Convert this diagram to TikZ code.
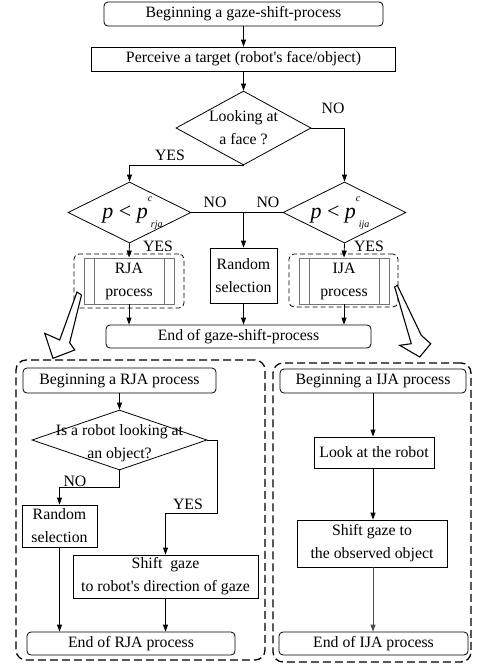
\documentclass[tikz,border=0pt]{standalone}
\usepackage{fontspec}
\setmainfont{Liberation Serif}
\usetikzlibrary{arrows.meta,shapes.geometric,calc}
\newcommand\pform[1]{{\fontsize{22}{24}\selectfont\itshape p \upshape< \itshape p}\rlap{\raisebox{17pt}{\fontsize{10}{12}\selectfont\itshape c}}\hspace{3pt}\raisebox{-9pt}{\fontsize{10}{12}\selectfont\itshape #1}}
\begin{document}
\begin{tikzpicture}[x=1pt,y=-1pt,
  every node/.style={font=\fontsize{15.8}{23}\selectfont, inner sep=0pt},
  box/.style={draw, line width=0.8pt, align=center},
  rbox/.style={box, rounded corners=4pt},
  pbox/.style={draw=black!55, line width=0.9pt, align=center},
  dia/.style={draw, diamond, line width=0.8pt, inner sep=0pt},
  arr/.style={-{Triangle[length=7pt,width=5pt]}, line width=0.8pt},
  ln/.style={line width=0.8pt},
  smalldash/.style={draw, line width=0.8pt, dash pattern=on 5pt off 3pt, rounded corners=5pt},
  bigdash/.style={draw, line width=1.3pt, dash pattern=on 8pt off 4pt, rounded corners=10pt},
  lbl/.style={font=\fontsize{15.8}{20}\selectfont}
]
\useasboundingbox (0,0) rectangle (477,664);

% ---- top part ----
\node[rbox, minimum width=279pt, minimum height=24pt] (start) at (243.5,14) {Beginning a gaze-shift-process};
\node[box, minimum width=304pt, minimum height=24pt] (perc) at (243.5,59) {Perceive a target (robot\textquotesingle s face/object)};
\node[dia, minimum width=135pt, minimum height=74pt] (d1) at (243.5,128) {};
\node[align=center] (d1t) at (243.5,128) {Looking at\\a face ?};
\node[dia, minimum width=123pt, minimum height=61pt] (d2) at (129.5,212.5) {};
\node (d2t) at (132.5,213) {\pform{rja}};
\node[dia, minimum width=123pt, minimum height=61pt] (d3) at (344.5,212.5) {};
\node (d3t) at (340,213) {\pform{ija}};

\node[pbox, minimum width=90pt, minimum height=46pt] (rja) at (129,281) {RJA\\process};
\node[pbox, minimum width=90pt, minimum height=46pt] (ija) at (344,281) {IJA\\process};
\draw[black!55, line width=0.9pt] ([xshift=11pt]rja.north west) -- ([xshift=11pt]rja.south west);
\draw[black!55, line width=0.9pt] ([xshift=-10pt]rja.north east) -- ([xshift=-10pt]rja.south east);
\draw[black!55, line width=0.9pt] ([xshift=11pt]ija.north west) -- ([xshift=11pt]ija.south west);
\draw[black!55, line width=0.9pt] ([xshift=-10pt]ija.north east) -- ([xshift=-10pt]ija.south east);
\node[box, minimum width=67pt, minimum height=55pt] (rand) at (243.5,275.5) {Random\\selection};
\node[smalldash, minimum width=110pt, minimum height=54pt] (rjad) at (129,281) {};
\node[smalldash, minimum width=109pt, minimum height=53pt] (ijad) at (343.5,280.5) {};
\node[rbox, minimum width=265pt, minimum height=23pt] (end) at (238.5,336.5) {End of gaze-shift-process};

\draw[arr] (start) -- (perc);
\draw[arr] (perc) -- (d1);
\draw[arr] (d1.east) -| (d3.north);
\draw[arr] (d1.south) -| (d2.north);
\draw[ln] (d2.east) -- (d3.west);
\coordinate (mid) at (rand.north |- d2.east);
\draw[arr] (mid) -- (rand.north);
\draw[arr] (d2.south) -- (rja.north);
\draw[arr] (d3.south) -- (ija.north);
\draw[arr] (rja.south) -- (rja.south |- end.north);
\draw[arr] (rand.south) -- (rand.south |- end.north);
\draw[arr] (ija.south) -- (ija.south |- end.north);

\node[lbl] (no1) at (333,108) {NO};
\node[lbl] (yes1) at (170,155) {YES};
\node[lbl] (no2) at (215,202) {NO};
\node[lbl] (no3) at (268,202) {NO};
\node[lbl] (yes2) at (158,246) {YES};
\node[lbl] (yes3) at (369,246) {YES};

% ---- hollow arrows ----
\draw[line width=1.1pt, line join=miter, fill=white] (77,292) -- (81.5,295) -- (69.7,342.7) -- (74.7,350) -- (53,358.3) -- (44.7,333.3) -- (59.7,340) -- cycle;
\draw[line width=1.1pt, line join=miter, fill=white] (397.3,285.3) -- (421.3,335.3) -- (430.7,343.7) -- (419.7,357) -- (399.7,345.3) -- (411.3,343.7) -- (394.7,287) -- cycle;

% ---- RJA process ----
\node[bigdash, minimum width=249pt, minimum height=300pt] (rjabig) at (140.5,510) {};
\node[rbox, minimum width=193pt, minimum height=25pt] (brja) at (119.5,380.5) {Beginning a RJA process};
\node[dia, minimum width=175pt, minimum height=60pt] (d4) at (119.5,440) {};
\node[align=center] (d4t) at (119.5,443) {Is a robot looking at\\an object?};
\node[box, minimum width=75pt, minimum height=42pt] (rand2) at (59.5,526) {Random\\selection};
\node[box, minimum width=185pt, minimum height=43pt] (shift) at (165.5,576.5) {Shift\ \ gaze\\to robot\textquotesingle s direction of gaze};
\node[rbox, minimum width=208pt, minimum height=23pt] (erja) at (131,643.5) {End of RJA process};
\coordinate (c1) at (119.5,487);
\coordinate (c2) at (217,440);
\coordinate (c3) at (217,513);
\draw[arr] (brja) -- (d4);
\draw[arr] (d4.south) -- (c1) -| (rand2.north);
\draw[arr] (d4.east) -- (c2) -- (c3) -| (shift.north);
\draw[arr] (rand2.south) -- (rand2.south |- erja.north);
\draw[arr] (shift.south) -- (shift.south |- erja.north);
\node[lbl] (no4) at (75,481) {NO};
\node[lbl] (yes4) at (188,504) {YES};

% ---- IJA process ----
\node[bigdash, minimum width=198pt, minimum height=299pt] (ijabig) at (372,512.5) {};
\node[rbox, minimum width=186pt, minimum height=24pt] (bija) at (373,381) {Beginning a IJA process};
\node[box, minimum width=120pt, minimum height=31pt] (look) at (374,452.5) {Look at the robot};
\node[box, minimum width=150pt, minimum height=47pt] (shift2) at (372,543.5) {Shift gaze to\\the observed object};
\node[rbox, minimum width=189pt, minimum height=23pt] (eija) at (373.5,643.5) {End of IJA process};
\draw[arr] (bija.south) -- (bija.south |- look.north);
\draw[arr] (bija.south |- look.south) -- (bija.south |- shift2.north);
\draw[arr, black!70] (bija.south |- shift2.south) -- (bija.south |- eija.north);
\end{tikzpicture}
\end{document}
